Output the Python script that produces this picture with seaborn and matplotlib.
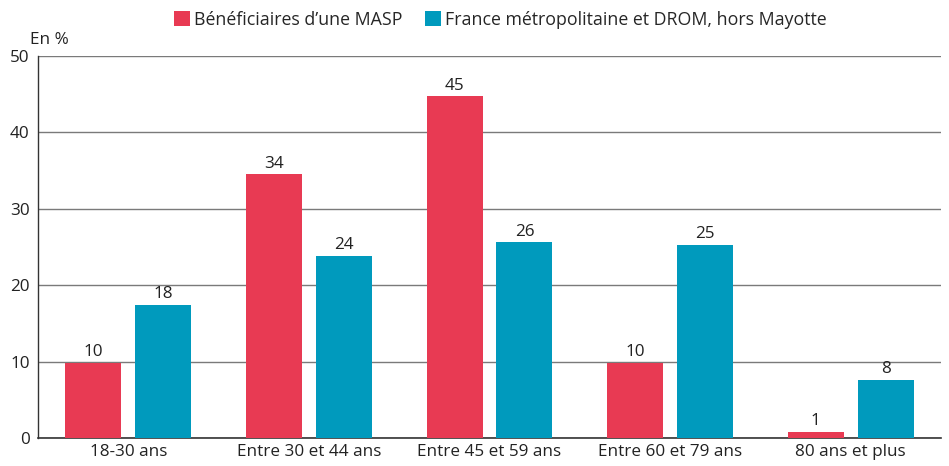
import matplotlib
matplotlib.use("Agg")
import matplotlib.pyplot as plt
import seaborn as sns
import pandas as pd
import numpy as np

categories = ["18-30 ans", "Entre 30 et 44 ans", "Entre 45 et 59 ans", "Entre 60 et 79 ans", "80 ans et plus"]
series_names = ["Bénéficiaires d\u2019une MASP", "France métropolitaine et DROM, hors Mayotte"]
masp = [9.8, 34.5, 44.7, 9.8, 0.8]
france = [17.4, 23.8, 25.6, 25.3, 7.6]
masp_labels = ["10", "34", "45", "10", "1"]
france_labels = ["18", "24", "26", "25", "8"]
colors = ["#E83A53", "#009ABD"]

sns.set_theme(style="white")
plt.rcParams["font.family"] = ["Open Sans", "DejaVu Sans"]

df = pd.DataFrame({
    "cat": categories * 2,
    "val": masp + france,
    "serie": [series_names[0]] * 5 + [series_names[1]] * 5,
})

fs = 12.3

fig = plt.figure(figsize=(9.49, 4.66), dpi=100)
ax = fig.add_axes([38 / 949, 28 / 466, (941 - 38) / 949, (438 - 56) / 466])

sns.barplot(data=df, x="cat", y="val", hue="serie", palette=colors,
            width=0.775, gap=0.2, saturation=1, ax=ax, legend=True, zorder=3,
            linewidth=0, edgecolor="none")

for cont, labs in zip(ax.containers, [masp_labels, france_labels]):
    ax.bar_label(cont, labels=labs, padding=2, fontsize=fs, color="#222222")

ax.set_ylim(0, 50)
ax.set_xlim(-0.5, 4.5)
ax.set_yticks([0, 10, 20, 30, 40, 50])
ax.tick_params(axis="y", length=0, labelsize=fs, pad=6, colors="#222222")
ax.tick_params(axis="x", which="major", length=0, labelsize=fs, pad=4, colors="#222222")
ax.set_xticks(np.arange(-0.5, 4.5, 1.0), minor=True)
ax.tick_params(axis="x", which="minor", length=5, width=1, color="#333333", direction="out")
ax.set_xlabel("")
ax.set_ylabel("")
ax.yaxis.grid(True, color="#7a7a7a", linewidth=1, zorder=0)
ax.set_axisbelow(True)
for s in ["top", "right"]:
    ax.spines[s].set_visible(False)
ax.spines["left"].set_color("#333333")
ax.spines["left"].set_linewidth(1)
ax.spines["bottom"].set_color("#333333")
ax.spines["bottom"].set_linewidth(1.2)

ax.text(-0.009, 1.02, "En %", transform=ax.transAxes, fontsize=fs, color="#222222", ha="left", va="bottom")

handles, labels = ax.get_legend_handles_labels()
ax.legend(handles, labels, loc="center", bbox_to_anchor=(0.512, 1.095), ncol=2, frameon=False,
          fontsize=12.8, handlelength=0.9, handleheight=0.9, handletextpad=0.2, columnspacing=1.3)

fig.savefig("out.png", dpi=100)
